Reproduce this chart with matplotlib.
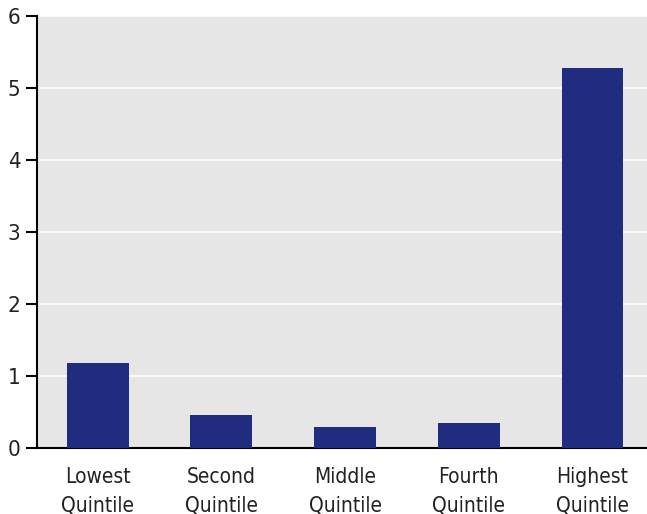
import matplotlib
matplotlib.use('Agg')
import matplotlib.pyplot as plt

categories = ['Lowest\nQuintile', 'Second\nQuintile', 'Middle\nQuintile', 'Fourth\nQuintile', 'Highest\nQuintile']
values = [1.18, 0.46, 0.29, 0.35, 5.28]

plt.rcParams['font.family'] = ['DejaVu Sans']
plt.rcParams['font.stretch'] = 'condensed'

fig = plt.figure(figsize=(6.47, 5.14), dpi=100)
ax = fig.add_axes([37/647, 66/514, 610/647, 432/514])
ax.set_facecolor('#e6e6e6')

x = range(len(categories))
ax.bar(x, values, width=0.5, color='#202c80', zorder=3)

ax.set_ylim(0, 6)
ax.set_xlim(-0.49, 4.44)
ax.set_yticks(range(7))
ax.grid(axis='y', color='white', linewidth=1.2, zorder=1)
ax.set_xticks(list(x))
ax.set_xticklabels(categories, fontsize=15, linespacing=1.5, color='#222222')
ax.tick_params(axis='x', length=0, pad=14)
ax.tick_params(axis='y', length=8, width=1.5, labelsize=16, pad=4, labelcolor='#222222')
for s in ['top', 'right']:
    ax.spines[s].set_visible(False)
for s in ['left', 'bottom']:
    ax.spines[s].set_linewidth(1.5)

fig.savefig('out.png', dpi=100)
